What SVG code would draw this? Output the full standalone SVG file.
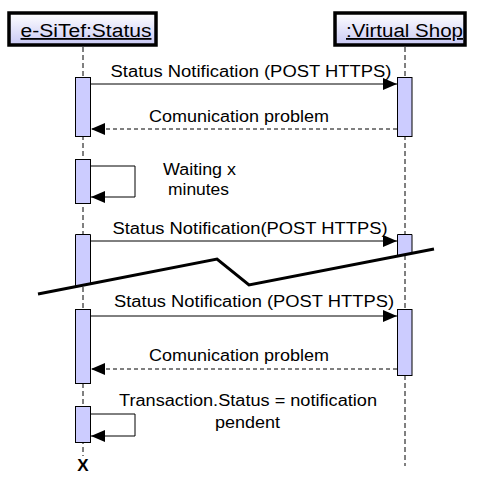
<svg xmlns="http://www.w3.org/2000/svg" width="484" height="479" viewBox="0 0 484 479">
<defs>
<linearGradient id="hg" x1="0" y1="0" x2="0" y2="1">
<stop offset="0" stop-color="#ffffff"/>
<stop offset="1" stop-color="#c8c8f4"/>
</linearGradient>
<marker id="ah" markerUnits="userSpaceOnUse" markerWidth="16" markerHeight="14" refX="14" refY="6" orient="auto">
<path d="M0,0 L14,6 L0,12 Z" fill="#000"/>
</marker>
<style>
.head{fill:url(#hg);stroke:#000;stroke-width:3.5}
.ht{font-family:"Liberation Sans",Arial,sans-serif;font-size:18px;text-decoration:underline;fill:#000}
.life{stroke:#000;stroke-width:1;stroke-dasharray:5,3;fill:none}
.bar{fill:#ccccff;stroke:#000;stroke-width:1}
.msg{stroke:#000;stroke-width:1;fill:none;marker-end:url(#ah)}
.ret{stroke:#000;stroke-width:1;fill:none;stroke-dasharray:4,3;marker-end:url(#ah)}
.lbl{font-family:"Liberation Sans",Arial,sans-serif;font-size:16px;fill:#000;text-anchor:middle}
.brk{stroke:#000;stroke-width:3;fill:none}
</style>
</defs>
<rect width="484" height="479" fill="#fff"/>
<g id="lifelines">
<line class="life" x1="83" y1="47" x2="83" y2="456"/>
<line class="life" x1="405" y1="47" x2="405" y2="466"/>
</g>
<g id="esitef">
<rect class="head" x="9" y="13" width="147" height="32"/>
<text class="ht" x="86" y="37" text-anchor="middle" textLength="131" lengthAdjust="spacingAndGlyphs">e-SiTef:Status</text>
</g>
<g id="shop">
<rect class="head" x="335" y="13" width="130" height="32"/>
<text class="ht" x="404.5" y="37" text-anchor="middle" textLength="117" lengthAdjust="spacingAndGlyphs">:Virtual Shop</text>
</g>
<g id="activations">
<rect class="bar" x="75.5" y="77.5" width="15" height="59"/>
<rect class="bar" x="397.5" y="77.5" width="14.5" height="59"/>
<rect class="bar" x="75.5" y="159.5" width="15" height="44"/>
<polygon class="bar" points="75.5,234.5 90.5,234.5 90.5,283.6 75.5,286.8"/>
<polygon class="bar" points="397.5,234.5 412,234.5 412,253.3 397.5,256.2"/>
<rect class="bar" x="75.5" y="309.5" width="15" height="74"/>
<rect class="bar" x="397.5" y="309.5" width="14.5" height="66"/>
<rect class="bar" x="75.5" y="406.5" width="15" height="36"/>
</g>
<g id="connectors">
<line class="msg" x1="91" y1="84" x2="397" y2="84"/>
<line class="ret" x1="397" y1="129" x2="91" y2="129"/>
<polyline class="msg" points="91,166 135,166 135,197 91,197"/>
<line class="msg" x1="91" y1="241" x2="397" y2="241"/>
<line class="msg" x1="91" y1="316" x2="397" y2="316"/>
<line class="ret" x1="397" y1="369" x2="91" y2="369"/>
<polyline class="msg" points="91,414 135,414 135,436 91,436"/>
</g>
<g id="labels">
<text class="lbl" x="251" y="77" textLength="281" lengthAdjust="spacingAndGlyphs">Status Notification (POST HTTPS)</text>
<text class="lbl" x="239" y="122" textLength="180" lengthAdjust="spacingAndGlyphs">Comunication problem</text>
<text class="lbl" x="199.5" y="175" textLength="73" lengthAdjust="spacingAndGlyphs">Waiting x</text>
<text class="lbl" x="198.5" y="195" textLength="61" lengthAdjust="spacingAndGlyphs">minutes</text>
<text class="lbl" x="250" y="234" textLength="275" lengthAdjust="spacingAndGlyphs">Status Notification(POST HTTPS)</text>
<text class="lbl" x="254" y="307" textLength="280" lengthAdjust="spacingAndGlyphs">Status Notification (POST HTTPS)</text>
<text class="lbl" x="239" y="361" textLength="180" lengthAdjust="spacingAndGlyphs">Comunication problem</text>
<text class="lbl" x="248" y="406" textLength="258" lengthAdjust="spacingAndGlyphs">Transaction.Status = notification</text>
<text class="lbl" x="247.5" y="428" textLength="65" lengthAdjust="spacingAndGlyphs">pendent</text>
</g>
<g id="break">
<polyline class="brk" points="38,294 217,259 249,285 434,249"/>
</g>
<g id="destroy">
<text x="83" y="471" text-anchor="middle" font-family="Liberation Sans,Arial,sans-serif" font-size="17" font-weight="bold">X</text>
</g>
</svg>
